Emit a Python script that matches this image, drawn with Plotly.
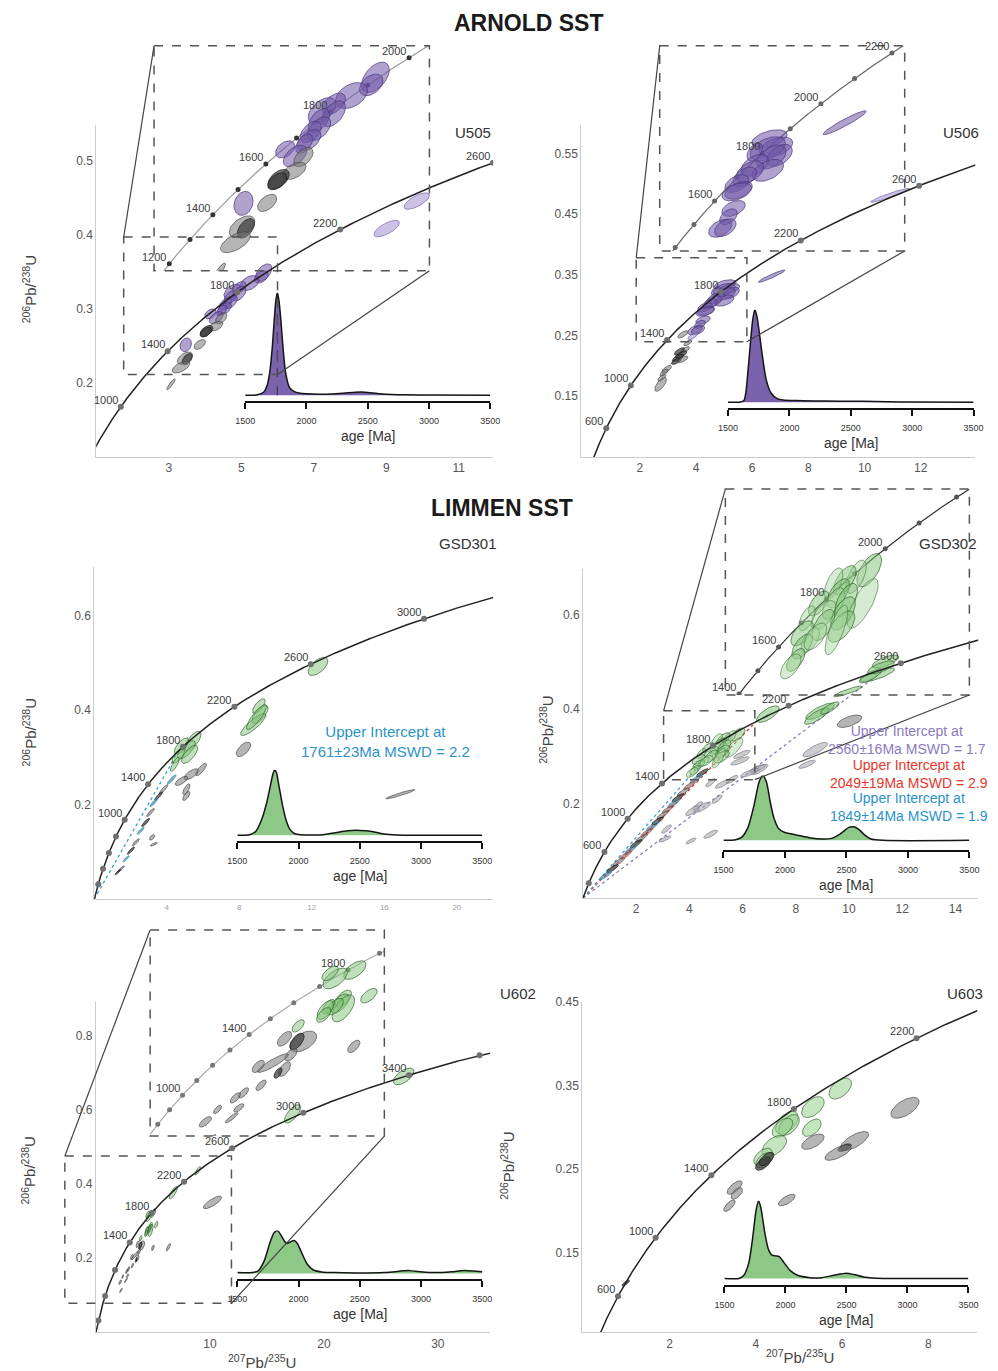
import numpy as np
import plotly.graph_objects as go

W, H = 998, 1371
FONT = "Arial, 'Liberation Sans', sans-serif"
LAMBDA_238 = 1.55125e-4   # 1/Ma
LAMBDA_235 = 9.8485e-4    # 1/Ma

# ======================= DATA =======================
# ---- U505 ----
U505_x = [5.62, 5.55, 5.23, 4.94, 4.75, 4.94, 4.70, 4.70, 4.565, 4.54, 4.458, 4.149, 4.309, 4.447, 4.298, 4.042, 4.02, 3.47, 3.855, 3.446, 3.51, 3.339, 3.06, 9.01, 9.84]
U505_y = [0.3487, 0.3428, 0.3346, 0.3282, 0.3230, 0.3205, 0.3154, 0.3090, 0.3064, 0.3000, 0.2974, 0.2930, 0.2879, 0.2871, 0.2764, 0.2700, 0.2684, 0.2513, 0.2517, 0.2333, 0.2320, 0.2213, 0.198, 0.408, 0.445]
U505_sx = [0.173, 0.147, 0.20, 0.147, 0.173, 0.147, 0.133, 0.147, 0.133, 0.147, 0.107, 0.12, 0.147, 0.12, 0.147, 0.133, 0.12, 0.12, 0.12, 0.16, 0.107, 0.187, 0.09, 0.27, 0.27]
U505_sy = [0.0090, 0.0064, 0.0077, 0.0064, 0.0077, 0.0077, 0.0070, 0.0070, 0.0064, 0.0064, 0.0058, 0.0051, 0.0064, 0.0058, 0.0051, 0.0058, 0.0051, 0.0071, 0.0051, 0.0064, 0.0058, 0.0062, 0.0056, 0.0085, 0.0085]
U505_rho = [0.5, 0.4, 0.4, 0.5, 0.5, 0.5, 0.5, 0.5, 0.5, 0.5, 0.5, 0.4, 0.5, 0.5, 0.5, 0.5, 0.5, 0.2, 0.5, 0.5, 0.5, 0.6, 0.9, 0.7, 0.7]
U505_cat = ['p'] * 13 + ['k', 'k', 'dk', 'dk', 'p', 'k', 'k', 'dk', 'k', 'k', 'lp', 'lp']
U505_kde_age = [1500, 1600, 1650, 1680, 1700, 1720, 1740, 1750, 1762, 1775, 1790, 1810, 1830, 1860, 1900, 1950, 2000, 2100, 2200, 2300, 2400, 2450, 2500, 2600, 2700, 2800, 3000, 3500]
U505_kde_den = [0, 0.005, 0.03, 0.10, 0.22, 0.45, 0.78, 0.92, 1.0, 0.93, 0.75, 0.45, 0.22, 0.08, 0.035, 0.02, 0.015, 0.01, 0.012, 0.02, 0.03, 0.032, 0.028, 0.015, 0.008, 0.005, 0.002, 0]
U505_peak_age = 1762
U505_conc_dots = [1000, 1400, 1800, 2200, 2600]
U505_conc_labels = [1000, 1400, 1800, 2200, 2600]
U505_inset_dots = [1200, 1300, 1400, 1500, 1600, 1700, 1800, 1900, 2000]
U505_inset_labels = [1200, 1400, 1600, 1800, 2000]
U505_zoom = [1.757, 6.0, 0.2114, 0.3966]

# ---- U506 ----
U506_x = [6.69, 5.04, 5.184, 5.003, 5.26, 4.717, 5.08, 4.717, 5.003, 4.61, 4.50, 4.32, 4.36, 4.32, 4.25, 4.14, 3.96, 4.07, 3.88, 3.71, 3.62, 3.47, 3.36, 3.30, 3.53, 2.95, 2.86, 2.74, 2.78, 3.53, 3.41, 10.91]
U506_y = [0.3478, 0.3343, 0.3273, 0.3259, 0.3203, 0.3231, 0.3189, 0.3119, 0.3077, 0.3063, 0.3021, 0.2965, 0.2909, 0.2895, 0.2755, 0.2685, 0.2588, 0.2593, 0.2489, 0.238, 0.227, 0.2189, 0.2134, 0.2079, 0.2107, 0.1943, 0.1889, 0.1697, 0.1807, 0.252, 0.224, 0.481]
U506_sx = [0.395, 0.323, 0.305, 0.323, 0.233, 0.143, 0.269, 0.251, 0.287, 0.251, 0.215, 0.215, 0.251, 0.269, 0.215, 0.161, 0.215, 0.197, 0.145, 0.12, 0.13, 0.17, 0.17, 0.15, 0.15, 0.145, 0.12, 0.174, 0.12, 0.15, 0.15, 0.58]
U506_sy = [0.0084, 0.0063, 0.0070, 0.0084, 0.0077, 0.0063, 0.0084, 0.0077, 0.0077, 0.0077, 0.0070, 0.0063, 0.0063, 0.0063, 0.0056, 0.0056, 0.0063, 0.0063, 0.0049, 0.0040, 0.0040, 0.0050, 0.0050, 0.0045, 0.0045, 0.0055, 0.0050, 0.0096, 0.0045, 0.0050, 0.0050, 0.0096]
U506_rho = [0.95] + [0.45] * 17 + [0.7] * 13 + [0.95]
U506_cat = ['p'] * 18 + ['lp', 'k', 'k', 'dk', 'dk', 'dk', 'k', 'k', 'k', 'k', 'k', 'k', 'dk', 'lp']
U506_kde_age = [1500, 1600, 1630, 1645, 1660, 1680, 1700, 1718, 1735, 1755, 1780, 1810, 1850, 1900, 1950, 2050, 2200, 2400, 2600, 2800, 3000, 3500]
U506_kde_den = [0, 0.003, 0.02, 0.10, 0.30, 0.60, 0.88, 1.0, 0.93, 0.75, 0.50, 0.25, 0.10, 0.04, 0.025, 0.018, 0.014, 0.012, 0.01, 0.005, 0.002, 0]
U506_conc_dots = [600, 1000, 1400, 1800, 2200, 2600]
U506_conc_labels = [600, 1000, 1400, 1800, 2200, 2600]
U506_inset_dots = [1400, 1500, 1600, 1700, 1800, 1900, 2000, 2100, 2200]
U506_inset_labels = [1600, 1800, 2000, 2200]
U506_zoom = [1.87, 5.81, 0.240, 0.378]

# ---- GSD301 ----
GSD301_x = [12.34, 9.08, 9.14, 8.77, 8.95, 5.44, 5.08, 4.81, 5.26, 4.63, 4.45, 8.23, 5.89, 5.35, 4.81, 5.08, 5.08, 16.88, 3.19, 3.28, 4.27, 3.82, 3.55, 3.28, 3.10, 2.83, 2.56, 2.29, 2.02, 1.75, 1.48, 1.30]
GSD301_y = [0.492, 0.408, 0.390, 0.369, 0.385, 0.334, 0.316, 0.3235, 0.306, 0.3025, 0.285, 0.3165, 0.274, 0.264, 0.250, 0.232, 0.218, 0.2217, 0.1305, 0.116, 0.253, 0.232, 0.218, 0.204, 0.183, 0.162, 0.1446, 0.12, 0.1025, 0.085, 0.0638, 0.057]
GSD301_sx = [0.495, 0.315, 0.405, 0.63, 0.50, 0.405, 0.45, 0.36, 0.405, 0.315, 0.225, 0.36, 0.27, 0.36, 0.315, 0.18, 0.18, 0.72, 0.135, 0.18, 0.22, 0.22, 0.2, 0.2, 0.2, 0.2, 0.18, 0.18, 0.18, 0.16, 0.16, 0.14]
GSD301_sy = [0.0175, 0.014, 0.0175, 0.021, 0.024, 0.019, 0.0175, 0.0158, 0.0175, 0.014, 0.014, 0.014, 0.012, 0.0105, 0.0088, 0.0105, 0.0088, 0.0088, 0.0053, 0.0035, 0.009, 0.009, 0.008, 0.008, 0.008, 0.008, 0.007, 0.007, 0.007, 0.006, 0.006, 0.005]
GSD301_rho = [0.6, 0.7, 0.7, 0.85, 0.85, 0.7, 0.7, 0.7, 0.7, 0.7, 0.8, 0.6, 0.8, 0.7, 0.7, 0.7, 0.7, 0.95, 0.6, 0.8] + [0.9] * 12
GSD301_cat = ['g'] * 11 + ['k'] * 9 + ['b', 'k', 'dk', 'b', 'k', 'dk', 'b', 'k', 'dk', 'b', 'k', 'dk']
GSD301_kde_age = [1500, 1600, 1650, 1700, 1740, 1770, 1790, 1805, 1820, 1840, 1870, 1900, 1930, 1960, 2000, 2100, 2200, 2300, 2400, 2500, 2600, 2700, 2800, 3000, 3500]
GSD301_kde_den = [0, 0.01, 0.06, 0.25, 0.50, 0.76, 0.93, 1.0, 0.95, 0.75, 0.45, 0.22, 0.09, 0.035, 0.012, 0.005, 0.01, 0.04, 0.07, 0.075, 0.06, 0.02, 0.005, 0, 0]
GSD301_conc_dots = [200, 400, 600, 800, 1000, 1400, 1800, 2200, 2600, 3000]
GSD301_conc_labels = [1000, 1400, 1800, 2200, 2600, 3000]
GSD301_intercepts = [1761]
GSD301_int_colors = ['#3a9fd4']

# ---- GSD302 ----
GSD302_x = [5.818, 5.53, 5.286, 5.04, 5.14, 5.675, 4.71, 5.04, 5.316, 4.816, 5.245, 4.457, 4.816, 5.21, 5.10, 4.35, 4.53, 4.35, 4.64, 4.21, 4.10,
            11.37, 11.06, 10.81, 11.2, 9.96, 8.91, 8.79, 9.28, 6.95,
            10.02, 8.73, 8.42, 6.56, 5.97, 5.90, 6.64, 6.27, 5.60, 5.23, 4.80, 5.04, 4.49, 4.31, 4.12, 4.80, 4.06, 3.08, 3.14,
            4.49, 4.25, 4.00, 3.76, 3.57, 3.40, 3.20, 3.00, 2.80, 2.60, 2.40, 2.20, 2.00, 1.80, 1.60, 1.35, 1.10, 0.85]
GSD302_y = [0.3458, 0.3403, 0.3375, 0.3347, 0.3265, 0.3181, 0.3181, 0.3181, 0.3209, 0.3084, 0.3098, 0.3057, 0.3001, 0.2988, 0.296, 0.2932, 0.2877, 0.2822, 0.2905, 0.271, 0.2656,
            0.5004, 0.472, 0.470, 0.488, 0.437, 0.395, 0.385, 0.402, 0.389,
            0.374, 0.314, 0.283, 0.274, 0.304, 0.290, 0.272, 0.265, 0.251, 0.241, 0.244, 0.209, 0.192, 0.195, 0.185, 0.135, 0.121, 0.125, 0.146,
            0.265, 0.252, 0.238, 0.224, 0.212, 0.200, 0.188, 0.176, 0.163, 0.151, 0.139, 0.127, 0.115, 0.103, 0.091, 0.077, 0.062, 0.048]
GSD302_sx = [0.215, 0.179, 0.197, 0.161, 0.197, 0.27, 0.179, 0.197, 0.197, 0.215, 0.215, 0.143, 0.197, 0.233, 0.197, 0.197, 0.161, 0.179, 0.197, 0.161, 0.179,
             0.4, 0.52, 0.34, 0.4, 0.43, 0.43, 0.37, 0.28, 0.34,
             0.37, 0.37, 0.25, 0.25, 0.25, 0.28, 0.25, 0.28, 0.18, 0.21, 0.15, 0.15, 0.25, 0.15, 0.21, 0.21, 0.15, 0.18, 0.15] + [0.18] * 18
GSD302_sy = [0.0111, 0.0111, 0.0097, 0.0104, 0.0097, 0.0166, 0.0083, 0.0104, 0.0111, 0.0097, 0.0111, 0.0083, 0.0104, 0.0104, 0.0166, 0.0083, 0.0083, 0.0083, 0.009, 0.0076, 0.0083,
             0.011, 0.012, 0.012, 0.011, 0.009, 0.014, 0.014, 0.0105, 0.014,
             0.0105, 0.0123, 0.007, 0.007, 0.007, 0.007, 0.0088, 0.007, 0.007, 0.007, 0.007, 0.007, 0.0088, 0.007, 0.0088, 0.007, 0.005, 0.005, 0.007] + [0.007] * 18
GSD302_rho = [0.6] * 5 + [0.75] + [0.6] * 8 + [0.75] + [0.6] * 6 + [0.7, 0.8, 0.8, 0.7, 0.9, 0.8, 0.8, 0.8, 0.7] + [0.6] + [0.8] * 18 + [0.85] * 18
GSD302_cat = ['g', 'lg', 'g', 'lg', 'g', 'lg', 'g', 'lg', 'g', 'lg', 'g', 'lg', 'g', 'g', 'lg', 'g', 'lg', 'g', 'lg', 'g', 'lg'] + ['gm'] * 9 + ['k'] + ['lk'] * 18 + ['dk', 'b', 'r', 'k'] * 4 + ['dk', 'b']
GSD302_kde_age = [1500, 1600, 1650, 1700, 1750, 1790, 1820, 1850, 1880, 1910, 1950, 2000, 2050, 2100, 2150, 2200, 2300, 2380, 2450, 2520, 2560, 2600, 2650, 2700, 2800, 3500]
GSD302_kde_den = [0, 0.01, 0.05, 0.2, 0.55, 0.9, 1.0, 0.9, 0.6, 0.35, 0.18, 0.12, 0.1, 0.08, 0.06, 0.04, 0.02, 0.03, 0.1, 0.2, 0.21, 0.17, 0.08, 0.02, 0, 0]
GSD302_conc_dots = [200, 600, 1000, 1400, 1800, 2200, 2600]
GSD302_conc_labels = [600, 1000, 1400, 1800, 2200, 2600]
GSD302_inset_dots = [1400, 1500, 1600, 1700, 1800, 1900, 2000, 2100, 2200]
GSD302_inset_labels = [1400, 1600, 1800, 2000]
GSD302_zoom = [3.03, 6.46, 0.2505, 0.396]
GSD302_intercepts = [2560, 2049, 1849]
GSD302_int_colors = ['#8a7bc0', '#e0402e', '#3a9fd4']

# ---- U602 ----
U602_x = [5.017, 4.637, 4.54, 4.795, 4.73, 4.795, 4.637, 4.51, 4.447, 4.415, 5.29, 3.92, 4.02, 3.896, 3.655, 3.78, 3.43, 3.147, 3.655, 3.53, 3.20, 2.86, 2.70, 2.77, 2.356, 2.12, 4.999, 10.23, 8.94, 6.79, 27.0, 17.25, 2.20, 2.63, 6.36]
U602_y = [0.3219, 0.3116, 0.3178, 0.2871, 0.281, 0.2748, 0.2769, 0.2769, 0.2728, 0.2667, 0.2904, 0.2532, 0.2340, 0.2340, 0.2373, 0.2177, 0.2074, 0.2033, 0.2000, 0.1951, 0.1800, 0.1706, 0.1645, 0.1522, 0.1502, 0.1350, 0.2279, 0.3506, 0.436, 0.377, 0.691, 0.590, 0.113, 0.140, 0.2295]
U602_sx = [0.174, 0.19, 0.127, 0.127, 0.143, 0.174, 0.127, 0.095, 0.127, 0.111, 0.127, 0.095, 0.206, 0.111, 0.111, 0.095, 0.238, 0.095, 0.095, 0.063, 0.079, 0.079, 0.079, 0.079, 0.063, 0.095, 0.095, 0.645, 0.21, 0.29, 0.72, 0.57, 0.10, 0.10, 0.15]
U602_sy = [0.0092, 0.0102, 0.0072, 0.0082, 0.0092, 0.0133, 0.0082, 0.0072, 0.0092, 0.0072, 0.0072, 0.0061, 0.0102, 0.0082, 0.0072, 0.0061, 0.0092, 0.0061, 0.0072, 0.0051, 0.0051, 0.0051, 0.0051, 0.0041, 0.0041, 0.0051, 0.0061, 0.0135, 0.009, 0.0135, 0.018, 0.020, 0.005, 0.005, 0.008]
U602_rho = [0.6] * 12 + [0.5, 0.6, 0.6, 0.6, 0.9, 0.6, 0.6, 0.6, 0.7, 0.7, 0.7, 0.7, 0.7, 0.7, 0.6] + [0.8, 0.8, 0.8, 0.6, 0.7, 0.9, 0.9, 0.8]
U602_cat = ['g'] * 12 + ['k', 'dk', 'k', 'k', 'k', 'k', 'k', 'dk', 'k', 'k', 'k', 'k', 'k', 'k', 'k'] + ['k', 'g', 'g', 'g', 'g', 'k', 'k', 'k']
U602_kde_age = [1500, 1620, 1670, 1720, 1770, 1800, 1828, 1855, 1885, 1905, 1935, 1964, 1990, 2030, 2070, 2120, 2200, 2300, 2500, 2700, 2850, 2900, 2950, 3100, 3250, 3350, 3450, 3500]
U602_kde_den = [0.02, 0.02, 0.06, 0.3, 0.75, 0.95, 1.0, 0.9, 0.75, 0.70, 0.74, 0.77, 0.7, 0.45, 0.22, 0.08, 0.03, 0.02, 0.01, 0.02, 0.06, 0.07, 0.05, 0.02, 0.04, 0.07, 0.05, 0.04]
U602_conc_dots = [200, 600, 1000, 1400, 1800, 2200, 2600, 3000, 3400, 3600]
U602_conc_labels = [1400, 1800, 2200, 2600, 3000, 3400]
U602_inset_dots = [800, 900, 1000, 1100, 1200, 1300, 1400, 1500, 1600, 1700, 1800, 1900]
U602_inset_labels = [1000, 1400, 1800]
U602_zoom = [-2.73, 11.89, 0.078, 0.476]

# ---- U603 ----
U603_x = [5.96, 5.325, 5.30, 4.72, 4.77, 4.62, 4.43, 4.17, 4.20, 5.325, 6.29, 6.06, 5.91, 7.46, 4.17, 3.51, 3.56, 3.39, 4.72, 0.985, 4.25]
U603_y = [0.3465, 0.3242, 0.2995, 0.3055, 0.3027, 0.2995, 0.2777, 0.2646, 0.2606, 0.2828, 0.2836, 0.2757, 0.2697, 0.3234, 0.2566, 0.2279, 0.2208, 0.2061, 0.2129, 0.1134, 0.262]
U603_sx = [0.227, 0.227, 0.189, 0.227, 0.208, 0.208, 0.246, 0.189, 0.17, 0.227, 0.284, 0.133, 0.265, 0.284, 0.152, 0.152, 0.114, 0.114, 0.17, 0.076, 0.15]
U603_sy = [0.0109, 0.0109, 0.0090, 0.0119, 0.0109, 0.0099, 0.0109, 0.0090, 0.0080, 0.0080, 0.0099, 0.0040, 0.0080, 0.0109, 0.0070, 0.0070, 0.0060, 0.0060, 0.0060, 0.0030, 0.007]
U603_rho = [0.5] * 9 + [0.6, 0.7, 0.6, 0.7, 0.6, 0.6, 0.7, 0.6, 0.7, 0.7, 0.8, 0.6]
U603_cat = ['lg2'] * 9 + ['k', 'k', 'dk', 'k', 'k', 'dk', 'k', 'k', 'k', 'k', 'dk', 'dk']
U603_kde_age = [1500, 1620, 1660, 1700, 1730, 1760, 1781, 1800, 1830, 1860, 1890, 1920, 1950, 1990, 2040, 2100, 2200, 2300, 2400, 2500, 2560, 2650, 2800, 3500]
U603_kde_den = [0, 0, 0.04, 0.2, 0.5, 0.88, 1.0, 0.9, 0.6, 0.38, 0.3, 0.29, 0.28, 0.2, 0.1, 0.04, 0.01, 0.01, 0.04, 0.065, 0.05, 0.015, 0, 0]
U603_conc_dots = [600, 1000, 1400, 1800, 2200]
U603_conc_labels = [600, 1000, 1400, 1800, 2200]

KDE_TICKS = [1500, 2000, 2500, 3000, 3500]

# ======================= STYLE / LAYOUT =======================
STYLE = {
    'p':   ('rgba(112,86,168,0.55)', 'rgba(75,55,125,0.9)'),
    'lp':  ('rgba(160,142,208,0.55)', 'rgba(110,92,165,0.8)'),
    'k':   ('rgba(120,120,120,0.55)', 'rgba(70,70,70,0.85)'),
    'lk':  ('rgba(170,170,178,0.6)', 'rgba(115,115,125,0.8)'),
    'dk':  ('rgba(55,55,55,0.7)', 'rgba(25,25,25,0.9)'),
    'g':   ('rgba(128,194,118,0.5)', 'rgba(45,95,40,0.85)'),
    'lg':  ('rgba(165,212,155,0.45)', 'rgba(70,120,65,0.8)'),
    'gm':  ('rgba(128,194,118,0.55)', 'rgba(45,95,40,0.85)'),
    'lg2': ('rgba(150,208,140,0.55)', 'rgba(50,100,45,0.85)'),
    'b':   ('rgba(70,85,100,0.55)', 'rgba(40,160,210,0.9)'),
    'r':   ('rgba(80,70,70,0.5)', 'rgba(220,70,55,0.85)'),
}
PURPLE_KDE = '#7a62ad'
GREEN_KDE = '#8dc886'
LABEL_COLOR = '#3c3c3c'

fig = go.Figure()
layout = dict(width=W, height=H, margin=dict(l=0, r=0, t=0, b=0), paper_bgcolor='white',
              plot_bgcolor='rgba(0,0,0,0)', showlegend=False, hovermode=False,
              font=dict(family=FONT, color='#444'))
shapes, annos = [], []
n_ax = [0]


def conc(t):
    t = np.asarray(t, float)
    return np.exp(LAMBDA_235 * t) - 1, np.exp(LAMBDA_238 * t) - 1


def make_axes(box, xr, yr, xkw=None, ykw=None):
    n_ax[0] += 1
    n = n_ax[0]
    sfx = '' if n == 1 else str(n)
    x0, x1, y0, y1 = box
    base = dict(showgrid=False, zeroline=False, showline=False, showticklabels=False, ticks='', fixedrange=True)
    xa = dict(base, domain=[x0 / W, x1 / W], range=xr, anchor='y' + sfx)
    ya = dict(base, domain=[1 - y1 / H, 1 - y0 / H], range=yr, anchor='x' + sfx)
    if xkw:
        xa.update(xkw)
    if ykw:
        ya.update(ykw)
    layout['xaxis' + sfx] = xa
    layout['yaxis' + sfx] = ya
    return 'x' + sfx, 'y' + sfx


T_CURVE = np.arange(1, 4501, 4)


def add_concordia(xa, ya, color, width, dots, dot_color, dot_size, labels):
    cx, cy = conc(T_CURVE)
    fig.add_trace(go.Scatter(x=cx, y=cy, mode='lines', line=dict(color=color, width=width),
                             hoverinfo='skip', xaxis=xa, yaxis=ya))
    dx, dy = conc(dots)
    fig.add_trace(go.Scatter(x=dx, y=dy, mode='markers', marker=dict(color=dot_color, size=dot_size),
                             hoverinfo='skip', xaxis=xa, yaxis=ya))
    for a in labels:
        lx, ly = conc([a])
        annos.append(dict(x=float(lx[0]), y=float(ly[0]), xref=xa, yref=ya, text=str(a), showarrow=False,
                          xanchor='right', yanchor='bottom', xshift=-1, yshift=-1,
                          font=dict(size=11, color=LABEL_COLOR)))


TT = np.linspace(0, 2 * np.pi, 41)


def add_ellipses(xa, ya, ex, ey, esx, esy, erho, ecat, cats=None, scale=1.0):
    for x, y, sx, sy, r, c in zip(ex, ey, esx, esy, erho, ecat):
        if cats is not None and c not in cats:
            continue
        px = x + scale * sx * np.cos(TT)
        py = y + scale * sy * (r * np.cos(TT) + np.sqrt(1 - r * r) * np.sin(TT))
        fc, lc = STYLE[c]
        fig.add_trace(go.Scatter(x=px, y=py, mode='lines', fill='toself', fillcolor=fc,
                                 line=dict(color=lc, width=0.8), hoverinfo='skip', xaxis=xa, yaxis=ya))


def add_kde(box, ages, dens, fillcolor, vline=None):
    x0, x1, peak, base, axis = box
    g = (axis - base) / (base - peak)
    xa, ya = make_axes((x0, x1, peak, axis), [1500, 3500], [-g, 1.0],
                       xkw=dict(showline=True, linecolor='#111', linewidth=1.6, ticks='outside', ticklen=6,
                                tickwidth=1.6, tickcolor='#111', tickvals=KDE_TICKS, showticklabels=True,
                                tickfont=dict(size=9, color='#333'), ticklabelstandoff=4))
    fig.add_trace(go.Scatter(x=ages, y=dens, mode='lines', line=dict(color='#151515', width=1.5, shape='spline', smoothing=0.7),
                             fill='tozeroy', fillcolor=fillcolor, hoverinfo='skip', xaxis=xa, yaxis=ya))
    if vline is not None:
        fig.add_trace(go.Scatter(x=[vline, vline], y=[0, 0.97], mode='lines', line=dict(color='#333', width=1, dash='dash'),
                                 hoverinfo='skip', xaxis=xa, yaxis=ya))
    annos.append(dict(text='age [Ma]', x=(x0 + x1) / 2 / W, y=1 - (axis + 35) / H, xref='paper', yref='paper',
                      showarrow=False, font=dict(size=14, color='#333'), xanchor='center', yanchor='middle'))


def to_paper(cfg, x, y):
    x0, x1, y0, y1 = cfg['box']
    xr, yr = cfg['xr'], cfg['yr']
    px = x0 + (x - xr[0]) / (xr[1] - xr[0]) * (x1 - x0)
    py = y1 - (y - yr[0]) / (yr[1] - yr[0]) * (y1 - y0)
    return px / W, 1 - py / H


def line_shape(p, q, color='#444', width=1.2):
    shapes.append(dict(type='line', xref='paper', yref='paper', x0=p[0], y0=p[1], x1=q[0], y1=q[1],
                       line=dict(color=color, width=width)))


def rect_shape(a, b):
    shapes.append(dict(type='rect', xref='paper', yref='paper', x0=a[0], y0=a[1], x1=b[0], y1=b[1],
                       line=dict(color='#555', width=1.5, dash='dash')))


PANELS = [
    dict(name='U505', box=(88, 493, 120, 453), xr=[1.0, 11.946], yr=[0.1, 0.547], xt=[3, 5, 7, 9, 11], yt=[0.2, 0.3, 0.4, 0.5],
         data=(U505_x, U505_y, U505_sx, U505_sy, U505_rho, U505_cat), dots=U505_conc_dots, labels=U505_conc_labels, escale=1.3,
         inset=dict(box=(147, 428, 40, 266), xr=[2.012, 6.50], yr=[0.1992, 0.373], dots=U505_inset_dots, labels=U505_inset_labels,
                    line='#9a9a9a', dot='#333', cats=None, zoom=U505_zoom),
         kde=((240, 490, 288, 391, 397), U505_kde_age, U505_kde_den, PURPLE_KDE, U505_peak_age),
         label=(472, 127)),
    dict(name='U506', box=(583, 985, 120, 453), xr=[-0.084, 13.94], yr=[0.05, 0.596], xt=[2, 4, 6, 8, 10, 12, 14], yt=[0.15, 0.25, 0.35, 0.45, 0.55],
         data=(U506_x, U506_y, U506_sx, U506_sy, U506_rho, U506_cat), dots=U506_conc_dots, labels=U506_conc_labels, escale=1.2,
         inset=dict(box=(663, 913, 40, 246), xr=[2.629, 8.01], yr=[0.2397, 0.4127], dots=U506_inset_dots, labels=U506_inset_labels,
                    line='#666', dot='#666', cats=['p'], zoom=U506_zoom),
         kde=((732.7, 983.3, 305, 398, 404), U506_kde_age, U506_kde_den, PURPLE_KDE, None),
         label=(970, 127)),
    dict(name='GSD301', box=(86, 493, 563, 897), xr=[0, 22], yr=[0, 0.7032], xt=[4, 8, 12, 16, 20], yt=[0.2, 0.4, 0.6],
         xfont=dict(size=8, color='#a0a0a0'), escale=1.1,
         data=(GSD301_x, GSD301_y, GSD301_sx, GSD301_sy, GSD301_rho, GSD301_cat), dots=GSD301_conc_dots, labels=GSD301_conc_labels,
         inset=None, disc=(GSD301_intercepts, GSD301_int_colors),
         kde=((232, 482, 767, 833, 839), GSD301_kde_age, GSD301_kde_den, GREEN_KDE, None),
         label=(467, 540)),
    dict(name='GSD302', box=(584.7, 988, 565, 896), xr=[0, 14.855], yr=[0, 0.697], xt=[2, 4, 6, 8, 10, 12, 14], yt=[0.2, 0.4, 0.6],
         data=(GSD302_x, GSD302_y, GSD302_sx, GSD302_sy, GSD302_rho, GSD302_cat), dots=GSD302_conc_dots, labels=GSD302_conc_labels, escale=1.25,
         inset=dict(box=(730, 979, 485, 692), xr=[2.67, 8.01], yr=[0.2418, 0.4136], dots=GSD302_inset_dots, labels=GSD302_inset_labels,
                    line='#333', dot='#555', cats=['g', 'lg'], zoom=GSD302_zoom),
         disc=(GSD302_intercepts, GSD302_int_colors),
         kde=((728, 979, 773, 838, 848), GSD302_kde_age, GSD302_kde_den, GREEN_KDE, None),
         label=(957, 540)),
    dict(name='U602', box=(87.7, 490, 1000, 1332), xr=[0, 34.59], yr=[0, 0.8932], xt=[10, 20, 30], yt=[0.2, 0.4, 0.6, 0.8],
         data=(U602_x, U602_y, U602_sx, U602_sy, U602_rho, U602_cat), dots=U602_conc_dots, labels=U602_conc_labels, escale=1.25,
         inset=dict(box=(143, 382, 928, 1135), xr=[1.05, 5.59], yr=[0.1175, 0.3714], dots=U602_inset_dots, labels=U602_inset_labels,
                    line='#aaaaaa', dot='#777', cats=None, zoom=U602_zoom),
         kde=((232, 482, 1230, 1273, 1279), U602_kde_age, U602_kde_den, GREEN_KDE, None),
         label=(518, 992)),
    dict(name='U603', box=(584, 987, 1000, 1332), xr=[-0.0227, 9.136], yr=[0.0545, 0.4507], xt=[2, 4, 6, 8], yt=[0.15, 0.25, 0.35, 0.45],
         data=(U603_x, U603_y, U603_sx, U603_sy, U603_rho, U603_cat), dots=U603_conc_dots, labels=U603_conc_labels, escale=1.15,
         inset=None,
         kde=((729, 978, 1200, 1278, 1285), U603_kde_age, U603_kde_den, GREEN_KDE, None),
         label=(975, 992)),
]

for cfg in PANELS:
    xkw = dict(showline=True, linecolor='#cccccc', linewidth=1, showticklabels=True, tickvals=cfg['xt'],
               tickfont=cfg.get('xfont', dict(size=12, color='#555')))
    ykw = dict(showline=True, linecolor='#cccccc', linewidth=1, showticklabels=True, tickvals=cfg['yt'],
               tickfont=dict(size=12, color='#555'))
    xa, ya = make_axes(cfg['box'], cfg['xr'], cfg['yr'], xkw, ykw)
    if cfg.get('disc'):
        ages, cols = cfg['disc']
        for a, c in zip(ages, cols):
            ux, uy = conc([0, a])
            fig.add_trace(go.Scatter(x=ux, y=uy, mode='lines', line=dict(color=c, width=1.3, dash='dot'),
                                     hoverinfo='skip', xaxis=xa, yaxis=ya))
    add_ellipses(xa, ya, *cfg['data'], scale=cfg['escale'])
    add_concordia(xa, ya, '#222', 1.5, cfg['dots'], '#707070', 6, cfg['labels'])

    ins = cfg['inset']
    if ins:
        ixa, iya = make_axes(ins['box'], ins['xr'], ins['yr'])
        add_concordia(ixa, iya, ins['line'], 1.2, ins['dots'], ins['dot'], 5, ins['labels'])
        add_ellipses(ixa, iya, *cfg['data'], cats=ins['cats'], scale=cfg['escale'])
        zx0, zx1, zy0, zy1 = ins['zoom']
        tl = to_paper(cfg, zx0, zy1)
        br = to_paper(cfg, zx1, zy0)
        rect_shape(tl, br)
        bx0, bx1, by0, by1 = ins['box']
        itl = (bx0 / W, 1 - by0 / H)
        ibr = (bx1 / W, 1 - by1 / H)
        rect_shape(itl, ibr)
        line_shape(tl, itl)
        line_shape(br, ibr)

    kbox, kage, kden, kcol, kv = cfg['kde']
    add_kde(kbox, kage, kden, kcol, kv)

    lx, ly = cfg['label']
    annos.append(dict(text=cfg['name'], x=lx / W, y=1 - ly / H, xref='paper', yref='paper', showarrow=False,
                      font=dict(size=15, color='#333'), xanchor='center', yanchor='middle'))

# ---- titles and texts ----
for txt, x, y in [('<b>ARNOLD SST</b>', 530, 17), ('<b>LIMMEN SST</b>', 502, 504)]:
    annos.append(dict(text=txt, x=x / W, y=1 - y / H, xref='paper', yref='paper', showarrow=False,
                      font=dict(size=23, color='#1a1a1a'), xanchor='center', yanchor='middle'))

YT = '<sup>206</sup>Pb/<sup>238</sup>U'
XT = '<sup>207</sup>Pb/<sup>235</sup>U'
for x, y in [(20, 285), (20, 730), (548, 727), (19, 1170), (508, 1165)]:
    annos.append(dict(text=YT, x=x / W, y=1 - y / H, xref='paper', yref='paper', showarrow=False, textangle=-90,
                      font=dict(size=15, color='#444'), xanchor='center', yanchor='middle'))
for x, y in [(257, 1361), (806, 1356)]:
    annos.append(dict(text=XT, x=x / W, y=1 - y / H, xref='paper', yref='paper', showarrow=False,
                      font=dict(size=15, color='#444'), xanchor='center', yanchor='middle'))

INTERCEPT_TEXTS = [
    ('Upper Intercept at<br>1761±23Ma MSWD = 2.2', 383, 739, '#2a93c8', 15),
    ('Upper Intercept at<br>2560±16Ma MSWD = 1.7', 915, 737, '#8a7bc0', 14),
    ('Upper Intercept at<br>2049±19Ma MSWD = 2.9', 917, 771, '#e8352a', 14),
    ('Upper Intercept at<br>1849±14Ma MSWD = 1.9', 917, 805, '#2a93c8', 14),
]
for txt, x, y, c, s in INTERCEPT_TEXTS:
    annos.append(dict(text=txt, x=x / W, y=1 - y / H, xref='paper', yref='paper', showarrow=False,
                      font=dict(size=s, color=c), xanchor='center', yanchor='middle'))

layout['shapes'] = shapes
layout['annotations'] = annos
fig.update_layout(**layout)
fig.write_html("out.html", config={'displayModeBar': False},
               post_script="document.body.style.margin='0';document.body.style.overflow='hidden';")
